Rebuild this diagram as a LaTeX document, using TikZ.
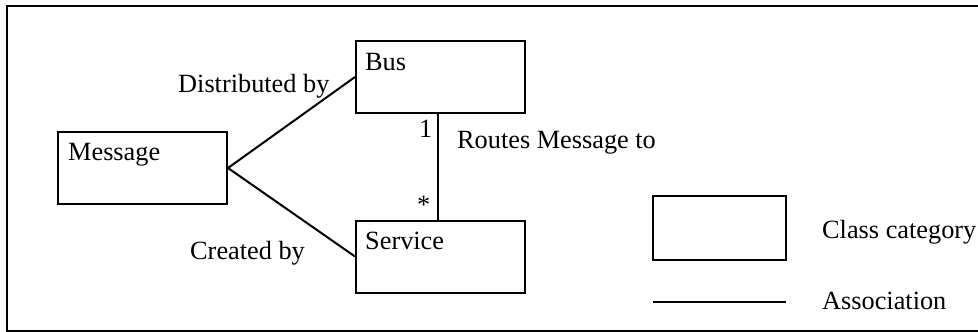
\documentclass[tikz,border=0pt]{standalone}
\usepackage{fontspec}
\setmainfont{Liberation Serif}
\begin{document}
\begin{tikzpicture}[x=1pt,y=-1pt,
  cls/.style={draw, line width=2pt, rectangle, minimum width=169pt, minimum height=72pt, inner sep=0pt},
  assoc/.style={line width=2pt},
  lbl/.style={inner sep=0pt, anchor=base west, font=\fontsize{26.3}{30}\selectfont},
  cls name/.style={inner sep=0pt, anchor=base west, font=\fontsize{26.3}{30}\selectfont}]
  \useasboundingbox (0,0) rectangle (978,332);
  \clip (0,0) rectangle (978,332);
  % outer frame (right edge runs off the page)
  \draw[line width=2.5pt] (7,6) rectangle (995,331);

  % class categories
  \node[cls] (msg) at (142.5,168) {};
  \node[cls] (bus) at (440.5,77) {};
  \node[cls] (svc) at (440.5,256.5) {};
  \node[cls name] (msgT) at (68,160) {Message};
  \node[cls name] (busT) at (365,70) {Bus};
  \node[cls name] (svcT) at (365,249) {Service};

  % associations
  \draw[assoc] (msg.east) -- (bus.west);
  \draw[assoc] (msg.east) -- (svc.west);
  \coordinate (routeTop) at (438,113);
  \coordinate (routeBot) at (438,220);
  \draw[assoc] (routeTop) -- (routeBot);

  % association labels
  \node[lbl] (dist) at (178,92) {Distributed by};
  \node[lbl] (crt) at (190,259) {Created by};
  \node[lbl] (route) at (457,148) {Routes Message to};
  \node[lbl] (one) at (419,137) {1};
  \node[lbl] (many) at (417,213) {*};

  % legend
  \node[draw, line width=2pt, minimum width=133pt, minimum height=64pt, inner sep=0pt] (legBox) at (719.5,228) {};
  \coordinate (legA) at (653,302);
  \coordinate (legB) at (786,302);
  \draw[assoc] (legA) -- (legB);
  \node[lbl] (legBoxT) at (822,238) {Class category};
  \node[lbl] (legLineT) at (822,309) {Association};
\end{tikzpicture}
\end{document}
